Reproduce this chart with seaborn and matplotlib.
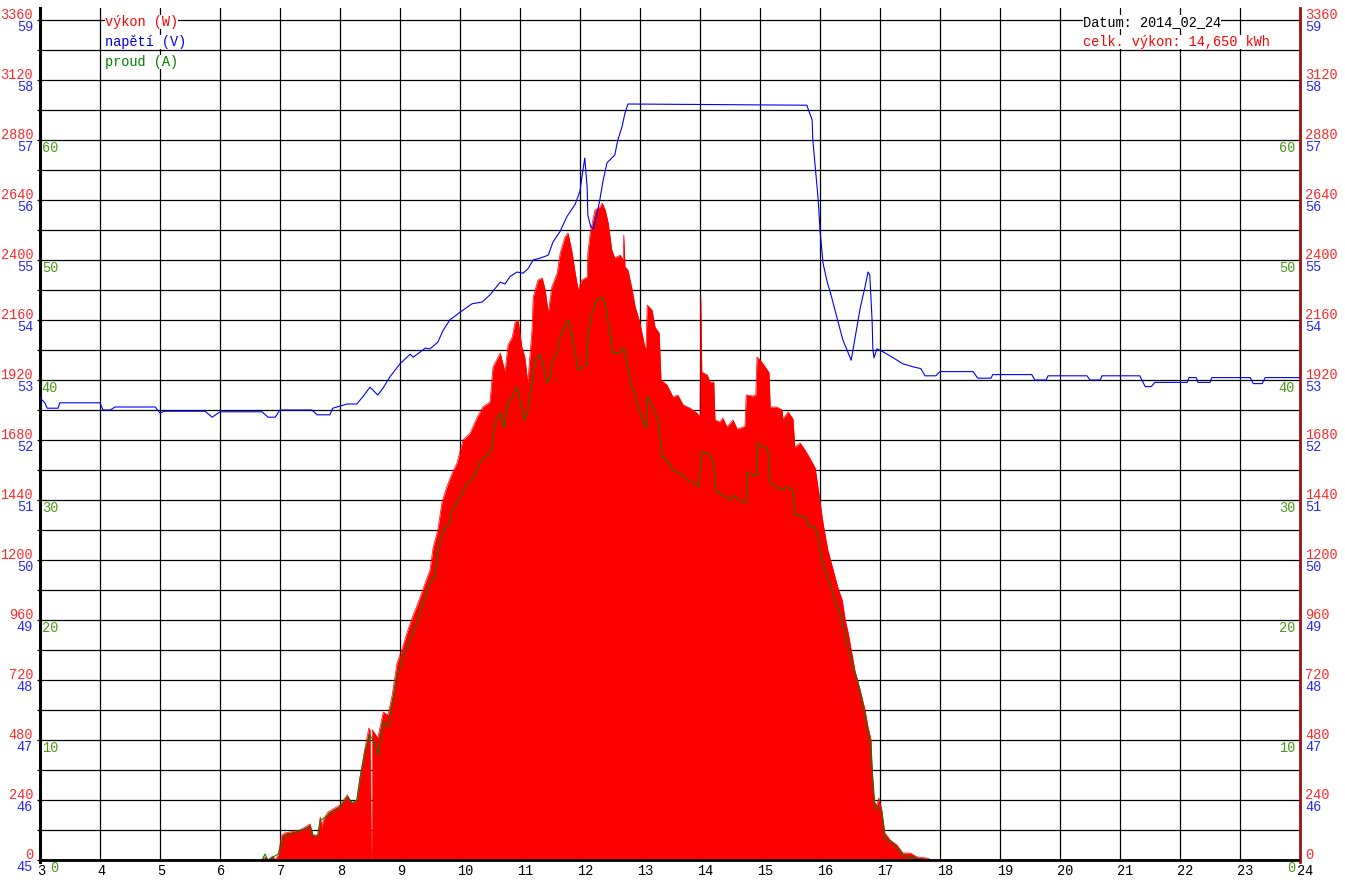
import matplotlib
matplotlib.use("Agg")
import matplotlib.pyplot as plt
import seaborn as sns

sns.set_style("white")
plt.rcParams["font.family"] = ["Liberation Mono", "DejaVu Sans Mono"]
plt.rcParams["font.size"] = 9.8

# tick labels of the three y scales and the hour axis
hour_labels = list(range(3, 25))
power_labels = list(range(0, 3361, 240))
volt_labels = list(range(45, 60))
current_labels = list(range(0, 61, 10))
power_grid = list(range(0, 3361, 120))

# power (W)
power_hours = [6.70, 6.75, 6.80, 6.88, 6.92, 6.97, 7.00, 7.03, 7.08, 7.33, 7.42, 7.50, 7.55, 7.63,
               7.67, 7.70, 7.72, 7.80, 8.00, 8.12, 8.20, 8.28, 8.33, 8.42, 8.48, 8.50, 8.515, 8.525,
               8.54, 8.63, 8.72, 8.80, 8.87, 8.95, 9.03, 9.12, 9.22, 9.30, 9.42, 9.50, 9.55, 9.63,
               9.70, 9.78, 9.87, 9.95, 10.05, 10.17, 10.28, 10.38, 10.50, 10.55, 10.67, 10.75, 10.80,
               10.87, 10.92, 10.97, 11.03, 11.08, 11.13, 11.20, 11.22, 11.30, 11.37, 11.42, 11.47,
               11.53, 11.62, 11.67, 11.75, 11.80, 11.87, 11.92, 11.97, 12.03, 12.12, 12.13, 12.17,
               12.25, 12.33, 12.37, 12.42, 12.47, 12.53, 12.58, 12.67, 12.72, 12.73, 12.75, 12.80,
               12.87, 12.92, 13.00, 13.08, 13.10, 13.12, 13.20, 13.25, 13.32, 13.35, 13.45, 13.55,
               13.63, 13.72, 13.83, 13.95, 14.00, 14.015, 14.03, 14.12, 14.17, 14.23, 14.25, 14.33,
               14.38, 14.45, 14.55, 14.62, 14.72, 14.75, 14.77, 14.88, 14.93, 14.95, 15.03, 15.12,
               15.15, 15.17, 15.28, 15.37, 15.38, 15.47, 15.55, 15.58, 15.67, 15.75, 15.83, 15.92,
               15.98, 16.05, 16.13, 16.22, 16.30, 16.37, 16.42, 16.47, 16.53, 16.58, 16.67, 16.75,
               16.80, 16.85, 16.87, 16.90, 16.95, 16.98, 17.03, 17.08, 17.17, 17.28, 17.38, 17.50,
               17.62, 17.78, 17.87]
power_watts = [0, 12, 0, 16, 0, 20, 60, 100, 108, 120, 132, 144, 100, 100,
               172, 130, 160, 192, 220, 260, 228, 240, 328, 452, 528, 520, 0, 0,
               520, 488, 592, 580, 660, 788, 840, 912, 980, 1028, 1108, 1160, 1248, 1320,
               1432, 1492, 1548, 1588, 1680, 1708, 1768, 1812, 1832, 1972, 2028, 1952, 2060,
               2092, 2152, 2160, 2052, 2012, 1908, 2120, 2252, 2320, 2328, 2280, 2188,
               2292, 2348, 2428, 2492, 2508, 2428, 2348, 2280, 2320, 2332, 2428, 2508,
               2600, 2612, 2628, 2600, 2548, 2440, 2408, 2420, 2400, 2500, 2372, 2360,
               2280, 2212, 2148, 2052, 2050, 2220, 2200, 2132, 2108, 1920, 1900, 1852,
               1860, 1820, 1808, 1788, 1772, 2252, 1952, 1940, 1912, 1912, 1760, 1752,
               1768, 1732, 1760, 1724, 1732, 1736, 1860, 1856, 1860, 2012, 1992, 1960,
               1950, 1812, 1812, 1800, 1764, 1792, 1764, 1652, 1668, 1640, 1608, 1568,
               1468, 1348, 1240, 1160, 1088, 1040, 960, 908, 828, 760, 680, 600,
               532, 480, 360, 232, 220, 248, 200, 108, 80, 60, 28, 28,
               12, 8, 0]

# current (A)
current_hours = [3.00, 6.70, 6.75, 6.80, 6.97, 7.03, 7.08, 7.50, 7.55, 7.63, 7.67, 8.00, 8.12, 8.20,
                 8.28, 8.33, 8.42, 8.50, 8.58, 8.63, 8.72, 8.80, 8.88, 8.95, 9.05, 9.17, 9.28, 9.38,
                 9.50, 9.58, 9.63, 9.72, 9.80, 9.88, 10.00, 10.12, 10.22, 10.33, 10.45, 10.53, 10.58,
                 10.67, 10.73, 10.80, 10.88, 10.95, 11.02, 11.08, 11.13, 11.20, 11.25, 11.33, 11.38,
                 11.45, 11.50, 11.53, 11.62, 11.67, 11.75, 11.80, 11.87, 11.92, 11.97, 12.05, 12.12,
                 12.13, 12.20, 12.28, 12.37, 12.42, 12.47, 12.55, 12.67, 12.73, 12.78, 12.87, 12.95,
                 13.03, 13.10, 13.12, 13.22, 13.30, 13.37, 13.45, 13.55, 13.67, 13.78, 13.88, 13.98,
                 14.03, 14.13, 14.22, 14.27, 14.38, 14.50, 14.55, 14.67, 14.77, 14.78, 14.88, 14.95,
                 14.96, 15.05, 15.13, 15.17, 15.37, 15.45, 15.55, 15.58, 15.75, 15.83, 15.92, 15.97,
                 16.03, 16.12, 16.20, 16.28, 16.37, 16.45, 16.53, 16.62, 16.70, 16.78, 16.83, 16.87,
                 16.92, 16.97, 17.03, 17.08, 17.17, 17.25, 17.38, 17.55, 17.70, 24.00]
current_amps = [0, 0, 0.5, 0, 0.5, 1.5, 2.0, 2.75, 2.0, 2.0, 3.3, 4.4, 5.25, 4.75,
                5.0, 6.7, 9.2, 10.4, 9.75, 8.75, 11.5, 11.1, 13.1, 15.25, 16.9, 18.3, 19.75, 21.4,
                23.1, 23.6, 25.8, 27.5, 27.9, 29.2, 30.25, 31.4, 31.8, 33.1, 33.75, 34.2, 36.4,
                37.25, 36.0, 38.1, 38.6, 39.4, 37.75, 36.7, 37.5, 39.75, 41.7, 42.1, 41.4,
                39.75, 40.25, 41.5, 42.25, 43.6, 44.6, 45.0, 43.6, 42.25, 40.8, 41.1, 41.4,
                43.6, 45.6, 46.7, 46.9, 46.4, 44.75, 42.25, 42.25, 42.7, 41.4, 39.4, 38.1,
                36.9, 36.0, 38.6, 37.75, 36.7, 33.6, 33.3, 32.5, 32.25, 31.7, 31.5, 31.1,
                34.0, 33.9, 33.3, 30.7, 30.4, 30.0, 30.4, 30.0, 29.75, 32.25, 32.1, 32.1,
                34.75, 34.4, 34.3, 31.4, 30.8, 31.1, 30.8, 28.75, 28.6, 27.75, 27.7, 26.9,
                25.0, 23.6, 22.5, 21.25, 20.0, 18.1, 16.4, 15.0, 13.3, 11.1, 10.0, 7.5,
                4.3, 4.4, 4.0, 1.7, 1.6, 1.1, 0.4, 0.2, 0, 0]

# voltage (V)
volt_hours = [3.00, 3.08, 3.12, 3.30, 3.33, 4.00, 4.05, 4.17, 4.25, 4.92, 5.00, 5.08, 5.75, 5.87,
              6.00, 6.70, 6.80, 6.92, 7.00, 7.53, 7.62, 7.83, 7.88, 8.12, 8.28, 8.38, 8.50, 8.58,
              8.63, 8.72, 8.83, 9.00, 9.17, 9.22, 9.42, 9.50, 9.63, 9.72, 9.83, 10.00, 10.20,
              10.37, 10.50, 10.67, 10.75, 10.83, 10.95, 11.05, 11.13, 11.22, 11.33, 11.47, 11.55,
              11.67, 11.78, 11.92, 12.00, 12.03, 12.08, 12.12, 12.13, 12.18, 12.22, 12.28, 12.33,
              12.38, 12.45, 12.58, 12.63, 12.70, 12.75, 12.80, 15.78, 15.87, 15.88, 15.93, 15.97,
              16.00, 16.05, 16.12, 16.17, 16.28, 16.38, 16.52, 16.67, 16.75, 16.80, 16.83, 16.87,
              16.88, 16.90, 16.95, 17.05, 17.22, 17.38, 17.55, 17.68, 17.75, 17.93, 18.00, 18.55,
              18.63, 18.85, 18.88, 19.53, 19.58, 19.77, 19.80, 20.45, 20.50, 20.67, 20.70, 21.33,
              21.42, 21.52, 21.58, 22.12, 22.15, 22.27, 22.30, 22.50, 22.53, 23.17, 23.22, 23.37,
              23.42, 24.00]
volt_values = [52.70, 52.62, 52.53, 52.53, 52.62, 52.62, 52.50, 52.50, 52.55, 52.55, 52.45, 52.48,
               52.48, 52.38, 52.47, 52.47, 52.38, 52.38, 52.50, 52.50, 52.42, 52.42, 52.53, 52.60,
               52.60, 52.72, 52.88, 52.80, 52.75, 52.87, 53.05, 53.27, 53.43, 53.38, 53.53, 53.52,
               53.63, 53.83, 54.00, 54.13, 54.27, 54.30, 54.42, 54.63, 54.60, 54.72, 54.80, 54.78,
               54.85, 55.00, 55.03, 55.08, 55.30, 55.48, 55.72, 55.93, 56.15, 56.37, 56.70, 56.20,
               55.75, 55.55, 55.52, 55.75, 56.00, 56.30, 56.62, 56.75, 57.00, 57.22, 57.45, 57.60,
               57.58, 57.33, 57.00, 56.45, 56.00, 55.50, 54.95, 54.63, 54.47, 54.05, 53.67, 53.33,
               54.20, 54.55, 54.80, 54.75, 53.95, 53.53, 53.37, 53.52, 53.47, 53.37, 53.27, 53.22,
               53.19, 53.07, 53.07, 53.14, 53.14, 53.03, 53.03, 53.09, 53.09, 53.00, 53.00, 53.07,
               53.07, 53.00, 53.00, 53.07, 53.07, 52.89, 52.89, 52.96, 52.96, 53.04, 53.04, 52.96,
               52.96, 53.04, 53.04, 52.94, 52.94, 53.04, 53.04]

assert len(power_hours) == len(power_watts), (len(power_hours), len(power_watts))
assert len(current_hours) == len(current_amps), (len(current_hours), len(current_amps))
assert len(volt_hours) == len(volt_values), (len(volt_hours), len(volt_values))

RED = "#ff0000"
BLUE = "#0000ff"
GREEN = "#008000"
LBL_RED = "#ff2a2a"
LBL_BLUE = "#2a2aff"
LBL_GREEN = "#4c9a1a"

W, H = 1345, 880
fig = plt.figure(figsize=(W / 100, H / 100), dpi=100)
ax = fig.add_axes([40 / W, 18 / H, 1260 / W, 854 / H])
ax_v = ax.twinx()
ax_i = ax.twinx()

# power as a filled area
ax.fill_between(power_hours, power_watts, 0, color=RED, lw=0, zorder=2)
sns.lineplot(x=power_hours, y=power_watts, ax=ax, color=RED, lw=0.5, zorder=2)

# voltage and current on their own scales
sns.lineplot(x=volt_hours, y=volt_values, ax=ax_v, color=BLUE, lw=0.8)
sns.lineplot(x=current_hours, y=current_amps, ax=ax_i, color=GREEN, lw=0.75)
ax_i.axhline(0, color="black", lw=2.0, zorder=3)

# 0..3360 W sits between y=860 and y=20 px, plot runs from 8 to 862 px
ax.set_xlim(3, 24)
ax.set_ylim(-8, 3408)
ax_v.set_ylim(45 - 8 / 240, 45 + 3408 / 240)
ax_i.set_ylim(-8 / 48, 3408 / 48)

ax.set_xticks(hour_labels)
ax.set_yticks(power_grid)
ax.set_axisbelow(True)
ax.grid(True, color="black", lw=0.9)
ax.tick_params(axis="both", length=2.2, width=0.9, color="black",
               labelleft=False, labelbottom=False)
for a in (ax, ax_v, ax_i):
    a.set_xlabel("")
    a.set_ylabel("")
for a in (ax_v, ax_i):
    a.set_yticks([])
    a.patch.set_visible(False)
    for s in a.spines.values():
        s.set_visible(False)

ax.spines["top"].set_visible(False)
ax.spines["bottom"].set_visible(False)
ax.spines["left"].set_color("black")
ax.spines["left"].set_linewidth(2.2)
ax.spines["right"].set_color("#a01010")
ax.spines["right"].set_linewidth(2.0)

# scale labels on both sides (no voltage 45 on the right, the hour 24 sits there)
opts = dict(textcoords="offset pixels", va="baseline", annotation_clip=False)
for p in power_labels:
    ax.annotate(str(p), xy=(0, p), xycoords=("axes fraction", "data"), xytext=(-7, 1),
                ha="right", color=LBL_RED, **opts)
    ax.annotate(str(p), xy=(1, p), xycoords=("axes fraction", "data"), xytext=(5, 1),
                ha="left", color=LBL_RED, **opts)
for v in volt_labels:
    ax_v.annotate(str(v), xy=(0, v), xycoords=("axes fraction", "data"), xytext=(-7, -11),
                  ha="right", color=LBL_BLUE, **opts)
    if v != volt_labels[0]:
        ax_v.annotate(str(v), xy=(1, v), xycoords=("axes fraction", "data"), xytext=(5, -11),
                      ha="left", color=LBL_BLUE, **opts)
for c in current_labels:
    ax_i.annotate(str(c), xy=(0, c), xycoords=("axes fraction", "data"), xytext=(18, -12),
                  ha="right", color=LBL_GREEN, **opts)
    ax_i.annotate(str(c), xy=(1, c), xycoords=("axes fraction", "data"), xytext=(-5, -12),
                  ha="right", color=LBL_GREEN, **opts)
for h in hour_labels:
    ax.annotate(str(h), xy=(h, 0), xycoords="data", xytext=(-3, -15),
                ha="left", color="black", **opts)

# legend and day summary
box = dict(facecolor="white", edgecolor="none", pad=0)
fig.text(105 / W, 1 - 26 / H, "výkon (W)", color=RED, va="baseline", bbox=box)
fig.text(105 / W, 1 - 46 / H, "napětí (V)", color=BLUE, va="baseline", bbox=box)
fig.text(105 / W, 1 - 66 / H, "proud (A)", color=GREEN, va="baseline", bbox=box)
fig.text(1083 / W, 1 - 26 / H, "Datum: 2014_02_24", color="black", va="baseline", bbox=box)
fig.text(1083 / W, 1 - 46 / H, "celk. výkon: 14,650 kWh", color=RED, va="baseline", bbox=box)

fig.savefig("out.png", dpi=100, facecolor="white")
